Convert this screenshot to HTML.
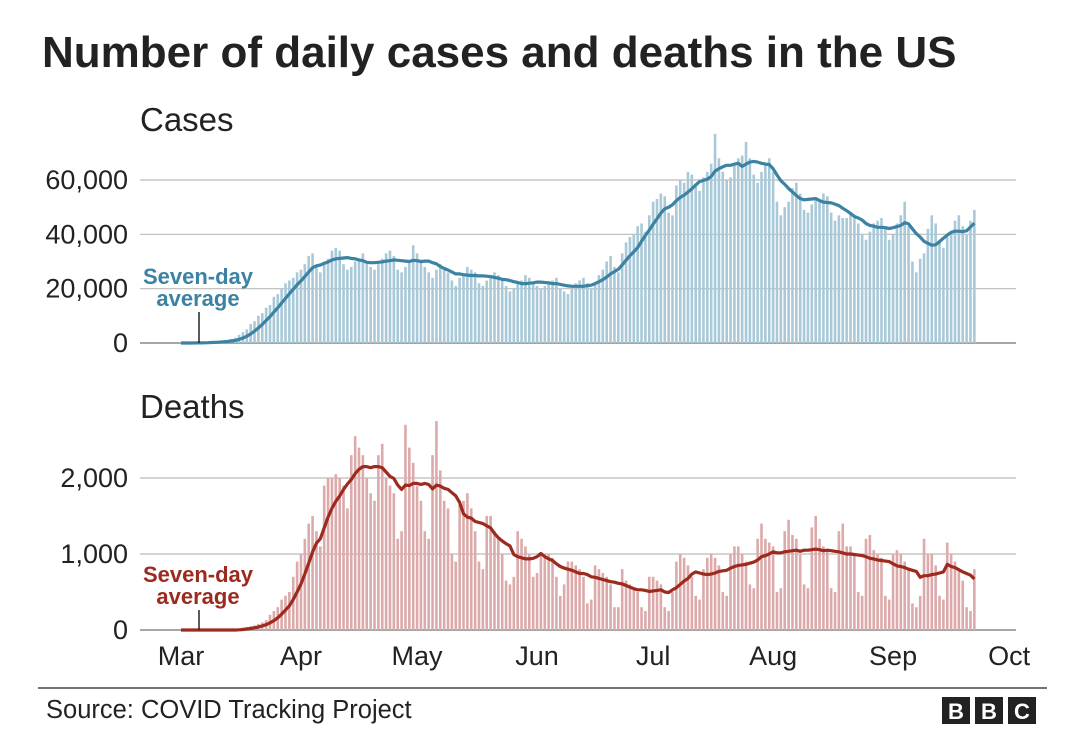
<!DOCTYPE html>
<html><head><meta charset="utf-8">
<style>
body{margin:0;background:#fff;width:1080px;height:751px;overflow:hidden;font-family:"Liberation Sans",Arial,sans-serif;}
svg{display:block}
</style></head>
<body>
<svg width="1080" height="751" xmlns="http://www.w3.org/2000/svg">
<text x="42" y="67" font-size="44" font-weight="bold" fill="#222">Number of daily cases and deaths in the US</text>
<text x="140" y="131" font-size="33" fill="#222">Cases</text>
<text x="140" y="418" font-size="33" fill="#222">Deaths</text>
<g id="cases"></g>
<g id="deaths"></g>
<g id="xaxis"></g>
<line x1="38" y1="688" x2="1047" y2="688" stroke="#444" stroke-width="1.5"/>
<text x="46" y="718" font-size="25.5" fill="#222">Source: COVID Tracking Project</text>
<g>
<rect x="942" y="697" width="28" height="27" fill="#222"/><rect x="975" y="697" width="28" height="27" fill="#222"/><rect x="1008" y="697" width="28" height="27" fill="#222"/>
<text x="956" y="719" font-size="22" font-weight="bold" fill="#fff" text-anchor="middle">B</text>
<text x="989" y="719" font-size="22" font-weight="bold" fill="#fff" text-anchor="middle">B</text>
<text x="1022" y="719" font-size="22" font-weight="bold" fill="#fff" text-anchor="middle">C</text>
</g>
</svg>
<script>
const monthLabels=["Mar","Apr","May","Jun","Jul","Aug","Sep","Oct"];
const monthDays=[0,31,61,92,122,153,184,214];
const casesTicks=[0,20000,40000,60000];
const deathsTicks=[0,1000,2000];
const cases=[0,0,0,0,0.1,0.2,0.2,0.3,0.4,0.5,0.6,0.8,1,1.5,2,
3,4,5,7,8,10,11,13,14,17,18,20,22,23,24,26,
27,29,32,33,28,26,30,31,34,35,34,29,27,28,30,31,33,30,28,27,29,31,33,34,32,27,26,28,30,36,
33,30,28,26,24,27,29,28,26,23,21,24,25,28,27,26,22,21,23,24,26,25,23,21,19,20,22,23,25,24,22,
21,20,21,22,23,24,20,19,18,20,22,23,24,22,20,22,25,27,30,32,28,26,33,37,39,40,43,44,41,47,
52,53,55,54,48,47,58,60,59,63,62,58,56,61,63,66,77,68,63,60,61,66,68,69,74,68,62,59,63,66,68,
63,52,47,50,52,57,59,55,49,48,51,53,52,55,54,48,45,47,46,46,48,46,44,40,38,41,44,45,46,43,38,
40,44,47,52,43,30,26,31,33,42,47,44,38,35,39,40,45,47,43,40,45,49].map(v=>v*1000);
const deaths=[0,0,0,0,0,0,0,0,0,0,0,0,0,0,0,
20,30,40,50,60,80,100,130,200,250,300,400,450,500,700,900,
1000,1200,1400,1500,1300,1100,1900,2000,2000,2050,2000,1900,1600,2300,2550,2400,2300,2000,1800,1700,2300,2450,2000,1900,1800,1200,1300,2700,2400,2200,
1900,1700,1300,1200,2300,2750,2100,1700,1600,1000,900,1700,1700,1800,1600,1300,900,800,1500,1500,1300,1200,1000,650,600,700,1300,1200,1100,1000,700,
750,1000,1000,1000,950,700,450,600,900,900,850,800,700,350,400,850,800,750,700,600,300,300,800,650,600,550,500,300,250,700,
700,650,600,300,250,500,900,1000,950,850,700,450,400,800,950,1000,950,850,500,450,1000,1100,1100,1000,900,600,550,1200,1400,1200,1150,
1100,500,550,1300,1450,1250,1200,1000,600,550,1350,1500,1200,1100,1050,550,500,1300,1400,1100,1100,1000,500,450,1200,1250,1050,1000,950,450,400,
1000,1050,1000,900,800,350,300,450,1200,1000,1000,850,450,400,1150,1000,900,800,650,300,250,800];
const NS="http://www.w3.org/2000/svg";
const x0=181,pxDay=3.87;
const xs=d=>x0+d*pxDay;
const yCases=v=>343-v*(163/60000);
const yDeaths=v=>630-v*(152/2000);
function mk(tag,attrs,parent){const e=document.createElementNS(NS,tag);for(const k in attrs)e.setAttribute(k,attrs[k]);parent.appendChild(e);return e;}
function avg(arr){return arr.map((v,i)=>{let s=0,n=0;for(let j=Math.max(0,i-6);j<=i;j++){s+=arr[j];n++;}return s/n;});}
function panel(gid,data,ys,ticks,barCol,lineCol,lab){
  const g=document.getElementById(gid);
  ticks.forEach(t=>{
    const gl=mk('line',{x1:140,x2:1016,y1:ys(t),y2:ys(t),stroke:t===0?'#888':'#bbb','stroke-width':t===0?1.5:1.2},g);
    
    
    const tx=mk('text',{x:128,y:ys(t)+9,'font-size':27,fill:'#222','text-anchor':'end'},g);
    tx.textContent=t.toLocaleString('en-US');
    
    
  });
  data.forEach((v,i)=>{
    if(v<=0)return;
    const r=mk('rect',{x:xs(i)-1.3,y:ys(v),width:2.6,height:ys(0)-ys(v),fill:barCol},g);
    
    
  });
  const a=avg(data);
  const p=mk('path',{d:a.map((v,i)=>(i?'L':'M')+xs(i).toFixed(1)+','+ys(v).toFixed(1)).join(''),fill:'none',stroke:lineCol,'stroke-width':3.2,'stroke-linejoin':'round'},g);
  
  
}
panel('cases',cases,yCases,casesTicks,'#a9c9d8','#3b82a3','cases');
panel('deaths',deaths,yDeaths,deathsTicks,'#dcaaaa','#9c2a1e','deaths');
function annot(gid,col,yTop,y0,lab){
  const g=document.getElementById(gid);
  const t1=mk('text',{x:198,y:yTop,'font-size':22,'font-weight':'bold',fill:col,'text-anchor':'middle'},g);
  t1.textContent='Seven-day';
  
  
  const t2=mk('text',{x:198,y:yTop+22,'font-size':22,'font-weight':'bold',fill:col,'text-anchor':'middle'},g);
  t2.textContent='average';
  
  
  const l=mk('line',{x1:199,x2:199,y1:yTop+28,y2:y0,stroke:'#222','stroke-width':1.5},g);
  
  
}
annot('cases','#3b82a3',284,343,'cases');
annot('deaths','#9c2a1e',582,630,'deaths');
const xg=document.getElementById('xaxis');
monthLabels.forEach((m,i)=>{
  const t=mk('text',{x:xs(monthDays[i]),y:665,'font-size':27,fill:'#222','text-anchor':'middle'},xg);
  t.textContent=m;
  
  
});
</script>
</body></html>
